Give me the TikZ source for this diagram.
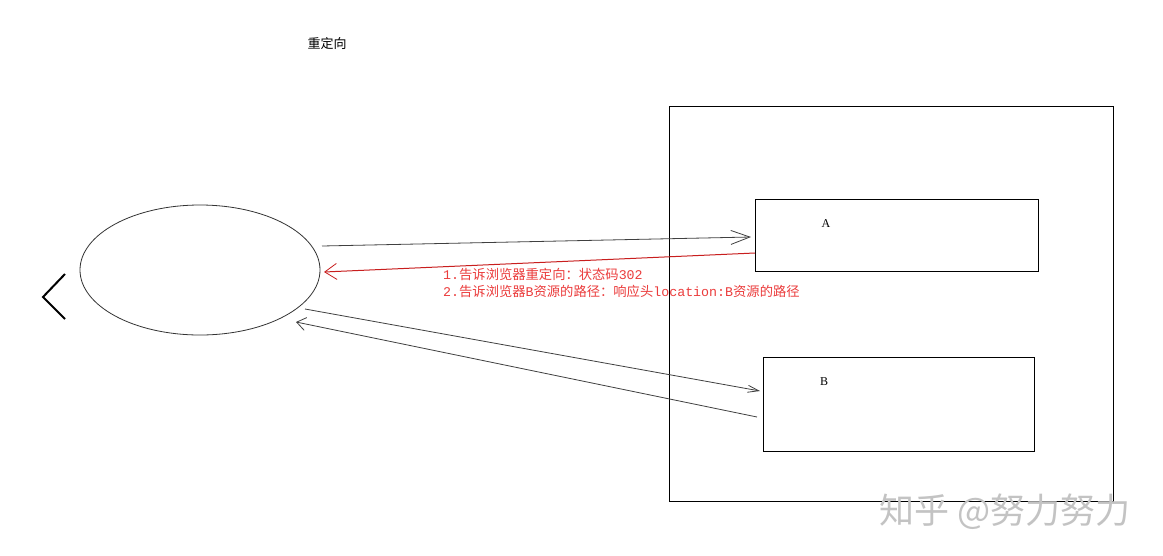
\documentclass[tikz,border=0pt]{standalone}
\usepackage{fontspec}
\setmainfont{Liberation Serif}
\newfontfamily\cjk{Noto Sans CJK SC}
\newfontfamily\monolatin{Liberation Mono}
\usetikzlibrary{arrows.meta,shapes.geometric}
\definecolor{redline}{RGB}{200,30,30}
\definecolor{redtext}{RGB}{235,60,60}
\definecolor{wmgray}{RGB}{195,195,195}
\newcommand{\ml}[1]{{\monolatin #1}}
\begin{document}
\begin{tikzpicture}[x=1pt,y=-1pt,
  box/.style={draw=black,line width=0.8pt,inner sep=0pt,anchor=north west},
  conn/.style={draw=black!75,line width=0.8pt},
  redconn/.style={draw=redline,line width=1pt},
  lbl/.style={font=\fontsize{12}{12}\selectfont,inner sep=0pt},
  note/.style={font=\cjk\fontsize{13.3}{13.5}\selectfont,text=redtext,inner sep=0pt,anchor=base west}]
\useasboundingbox (0,0) rectangle (1163,555);
\fill[white] (0,0) rectangle (1163,555);
% title
\node[font=\cjk\fontsize{13}{13}\selectfont,inner sep=0pt] (title) at (327,44) {重定向};
% back chevron
\draw[line width=2pt] (65,274) -- (43,297) -- (65,319);
% client ellipse
\node[draw=black!80,line width=0.8pt,ellipse,minimum width=240pt,minimum height=130pt,inner sep=0pt] (client) at (200,270) {};
% server
\node[box,minimum width=444pt,minimum height=395pt] (server) at (669,106) {};
\node[box,minimum width=283pt,minimum height=72pt] (A) at (755,199) {};
\node[box,minimum width=271pt,minimum height=94pt] (B) at (763,357) {};
\node[lbl] (Alabel) at (826,224) {A};
\node[lbl] (Blabel) at (824,382) {B};
% endpoints
\coordinate (c1) at (322,246);
\coordinate (a1) at (751,237);
\coordinate (a2) at (755,253);
\coordinate (c2) at (324,272);
\coordinate (c3) at (305,309);
\coordinate (b1) at (760,391);
\coordinate (b2) at (757,417);
\coordinate (c4) at (296,322);
% connectors
\draw[conn,-{Straight Barb[length=19pt,width=14pt,line width=0.8pt]}] (c1) -- (a1);
\draw[redconn,-{Straight Barb[length=12pt,width=16pt,line width=0.8pt]}] (a2) -- (c2);
\draw[conn,-{Straight Barb[length=11pt,width=7pt,line width=0.8pt]}] (c3) -- (b1);
\draw[conn,-{Straight Barb[length=9pt,width=13pt,line width=0.8pt]}] (b2) -- (c4);
% red notes
\node[note] (n1) at (443,279) {\ml{1.}告诉浏览器重定向：状态码\ml{302}};
\node[note] (n2) at (443,296) {\ml{2.}告诉浏览器\ml{B}资源的路径：响应头\ml{location:B}资源的路径};
% watermark
\node[font=\cjk\fontsize{35}{35}\selectfont,text=wmgray,inner sep=0pt,anchor=base west] (wm) at (879,523) {知乎 @努力努力};
\end{tikzpicture}
\end{document}
